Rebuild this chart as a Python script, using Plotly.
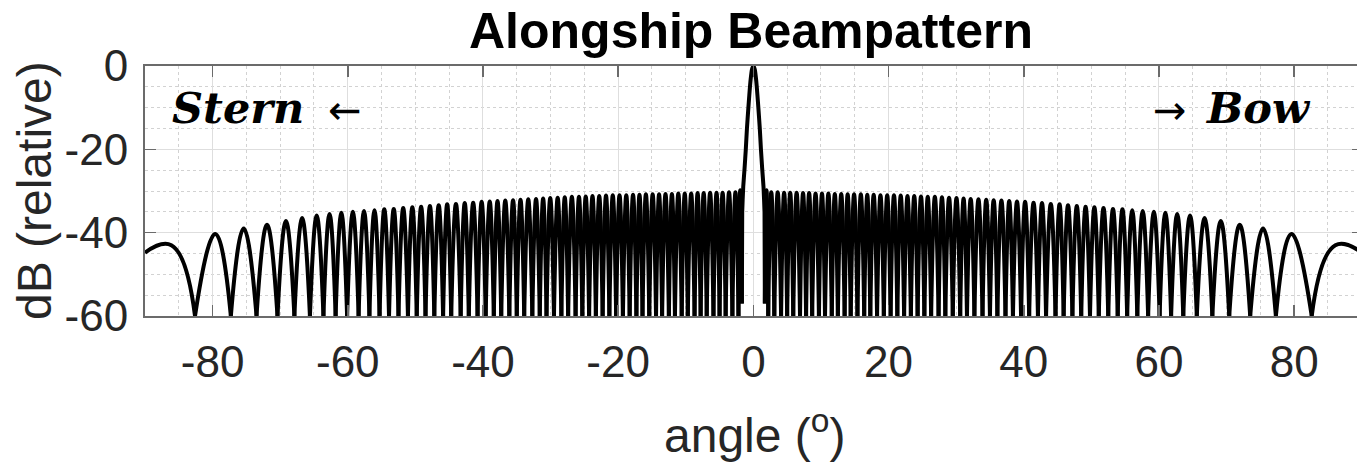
import plotly.graph_objects as go

# ---------------- data ----------------
# Side-lobe nulls (deg), lobe peak positions (deg) and peak levels (dB)
null_deg_left = [-82.6, -77.3, -73.5, -70.4, -67.9, -65.6, -63.6, -61.8, -60.1, -58.4,
                 -56.8, -55.3, -53.9, -52.5, -51.1, -49.8, -48.5, -47.2, -45.9, -44.7,
                 -43.3, -42.1, -40.8, -39.6, -38.4, -37.3, -36.1, -35.0, -33.9, -32.7,
                 -31.6, -30.6, -29.5, -28.4, -27.4, -26.3, -25.3, -24.3, -23.3, -22.3,
                 -21.3, -20.3, -19.3, -18.3, -17.3, -16.4, -15.4, -14.4, -13.5, -12.5,
                 -11.6, -10.6, -9.7, -8.7, -7.8, -6.9, -5.9, -5.0, -4.1, -3.1, -2.2]
peak_deg_left = [-79.6, -75.4, -71.95, -69.15, -66.75, -64.6, -62.7, -60.95, -59.25, -57.6,
                 -56.05, -54.6, -53.2, -51.8, -50.45, -49.15, -47.85, -46.55, -45.3, -44.0,
                 -42.7, -41.45, -40.2, -39.0, -37.85, -36.7, -35.55, -34.45, -33.3, -32.15,
                 -31.1, -30.05, -28.95, -27.9, -26.85, -25.8, -24.8, -23.8, -22.8, -21.8,
                 -20.8, -19.8, -18.8, -17.8, -16.85, -15.9, -14.9, -13.95, -13.0, -12.05,
                 -11.1, -10.15, -9.2, -8.25, -7.35, -6.4, -5.45, -4.55, -3.6, -2.65]
peak_db_left = [-40.3, -39.0, -38.1, -37.2, -36.5, -35.9, -35.5, -35.2, -35.0, -34.8,
                -34.6, -34.4, -34.3, -34.1, -33.9, -33.8, -33.6, -33.4, -33.2, -33.1,
                -32.9, -32.8, -32.6, -32.5, -32.4, -32.3, -32.2, -32.1, -32.0, -31.9,
                -31.8, -31.7, -31.6, -31.5, -31.4, -31.4, -31.3, -31.2, -31.2, -31.1,
                -31.0, -31.0, -31.0, -30.9, -30.9, -30.8, -30.8, -30.8, -30.7, -30.7,
                -30.6, -30.6, -30.6, -30.5, -30.5, -30.4, -30.4, -30.4, -30.3, -30.3]

null_deg_right = [2.2, 3.1, 4.1, 5.0, 5.9, 6.9, 7.8, 8.7, 9.7, 10.6,
                  11.6, 12.5, 13.5, 14.4, 15.4, 16.4, 17.3, 18.3, 19.3, 20.3,
                  21.3, 22.3, 23.3, 24.3, 25.3, 26.3, 27.4, 28.4, 29.5, 30.6,
                  31.6, 32.7, 33.9, 35.0, 36.1, 37.3, 38.4, 39.6, 40.8, 42.1,
                  43.3, 44.7, 45.9, 47.2, 48.5, 49.8, 51.1, 52.5, 53.9, 55.3,
                  56.8, 58.4, 60.1, 61.8, 63.6, 65.6, 67.9, 70.4, 73.5, 77.3, 82.6]
peak_deg_right = [2.65, 3.6, 4.55, 5.45, 6.4, 7.35, 8.25, 9.2, 10.15, 11.1,
                  12.05, 13.0, 13.95, 14.9, 15.9, 16.85, 17.8, 18.8, 19.8, 20.8,
                  21.8, 22.8, 23.8, 24.8, 25.8, 26.85, 27.9, 28.95, 30.05, 31.1,
                  32.15, 33.3, 34.45, 35.55, 36.7, 37.85, 39.0, 40.2, 41.45, 42.7,
                  44.0, 45.3, 46.55, 47.85, 49.15, 50.45, 51.8, 53.2, 54.6, 56.05,
                  57.6, 59.25, 60.95, 62.7, 64.6, 66.75, 69.15, 71.95, 75.4, 79.6]
peak_db_right = [-30.3, -30.3, -30.4, -30.4, -30.4, -30.5, -30.5, -30.6, -30.6, -30.6,
                 -30.7, -30.7, -30.8, -30.8, -30.8, -30.9, -30.9, -31.0, -31.0, -31.0,
                 -31.1, -31.2, -31.2, -31.3, -31.4, -31.4, -31.5, -31.6, -31.7, -31.8,
                 -31.9, -32.0, -32.1, -32.2, -32.3, -32.4, -32.5, -32.6, -32.8, -32.9,
                 -33.1, -33.2, -33.4, -33.6, -33.8, -33.9, -34.1, -34.3, -34.4, -34.6,
                 -34.8, -35.0, -35.2, -35.5, -35.9, -36.5, -37.2, -38.1, -39.0, -40.3]

null_floor_db = -60.0

# main lobe
main_deg = [-1.7, -1.65, -1.5, -1.3, -1.12, -0.95, -0.76, -0.6, -0.4, -0.2, 0.0,
            0.2, 0.4, 0.6, 0.76, 0.95, 1.12, 1.3, 1.5, 1.65, 1.7]
main_db = [-57.0, -35.0, -29.0, -24.5, -20.0, -15.0, -10.5, -7.0, -3.2, -0.8, 0.0,
           -0.8, -3.2, -7.0, -10.5, -15.0, -20.0, -24.5, -29.0, -35.0, -57.0]

# first side lobes next to the main lobe
first_sl_deg_left = [-2.2, -1.95, -1.7]
first_sl_db_left = [-60.0, -29.8, -57.0]
first_sl_deg_right = [1.7, 1.95, 2.2]
first_sl_db_right = [-57.0, -29.8, -60.0]

# partial lobes at the end-fire edges
edge_deg_left = [-90.0, -86.1, -82.6]
edge_db_left = [-44.8, -43.0, -60.0]
edge_deg_right = [82.6, 86.1, 90.0]
edge_db_right = [-60.0, -43.0, -44.8]

x_tick_vals = [-80, -60, -40, -20, 0, 20, 40, 60, 80]
x_tick_text = ["-80", "-60", "-40", "-20", "0", "20", "40", "60", "80"]
y_tick_vals = [-60, -40, -20, 0]
y_tick_text = ["-60", "-40", "-20", "0"]

# ---------------- build figure ----------------
def lobe_path(nulls, px, py, floor):
    xs, ys = [], []
    for i in range(len(px)):
        xs += [nulls[i], px[i], nulls[i + 1], None]
        ys += [floor, py[i], floor, None]
    return xs, ys

xl, yl = lobe_path(null_deg_left, peak_deg_left, peak_db_left, null_floor_db)
xr, yr = lobe_path(null_deg_right, peak_deg_right, peak_db_right, null_floor_db)

seg_x = (xl + xr + edge_deg_left + [None] + edge_deg_right + [None]
         + first_sl_deg_left + [None] + first_sl_deg_right)
seg_y = (yl + yr + edge_db_left + [None] + edge_db_right + [None]
         + first_sl_db_left + [None] + first_sl_db_right)

fig = go.Figure()
fig.add_trace(go.Scatter(x=seg_x, y=seg_y, mode="lines", connectgaps=False,
                         line=dict(color="black", width=4, shape="spline", smoothing=1.3),
                         hoverinfo="skip", showlegend=False))
fig.add_trace(go.Scatter(x=main_deg, y=main_db, mode="lines",
                         line=dict(color="black", width=4, shape="spline", smoothing=0.4),
                         hoverinfo="skip", showlegend=False))
# empty trace so the right-hand tick axis is drawn
fig.add_trace(go.Scatter(x=[], y=[], yaxis="y2", mode="lines",
                         hoverinfo="skip", showlegend=False))

W, H = 1357, 468
L, T, B, R = 145, 66, 468 - 316, 0
plot_w = W - L - R
plot_h = H - T - B

def px_x(px):  # page pixel -> paper x
    return (px - L) / plot_w

def px_y(py):  # page pixel -> paper y
    return (H - B - py) / plot_h

tick_font = dict(family="Liberation Sans, Arial, sans-serif", size=44, color="#262626")
axis_color = "#6b6b6b"
grid_major = "#dedede"
grid_minor = "#d2d2d2"

fig.update_layout(
    width=W, height=H,
    margin=dict(l=L, r=R, t=T, b=B, pad=0),
    paper_bgcolor="white", plot_bgcolor="white",
    showlegend=False,
    xaxis=dict(range=[-90, 89.3], tickmode="array", tickvals=x_tick_vals, ticktext=x_tick_text,
               showgrid=True, gridcolor=grid_major, gridwidth=1, zeroline=False,
               ticks="inside", ticklen=11, tickwidth=1.5, tickcolor=axis_color,
               showline=True, linecolor=axis_color, linewidth=2, mirror="ticks",
               tickfont=tick_font, ticklabelstandoff=6,
               minor=dict(dtick=5, tick0=0, showgrid=True, gridcolor=grid_minor,
                          griddash="dot", gridwidth=1, ticks="")),
    yaxis=dict(range=[-60, 0], tickmode="array", tickvals=y_tick_vals, ticktext=y_tick_text,
               showgrid=True, gridcolor=grid_major, gridwidth=1, zeroline=False,
               ticks="inside", ticklen=11, tickwidth=1.5, tickcolor=axis_color,
               showline=True, linecolor=axis_color, linewidth=2, mirror=False,
               tickfont=tick_font, ticklabelstandoff=6,
               minor=dict(dtick=5, tick0=0, showgrid=True, gridcolor=grid_minor,
                          griddash="dot", gridwidth=1, ticks="")),
    yaxis2=dict(range=[-60, 0], overlaying="y", side="right", anchor="x",
                tickmode="array", tickvals=y_tick_vals, showticklabels=False,
                ticks="inside", ticklen=5, tickwidth=1.5, tickcolor=axis_color,
                showgrid=False, zeroline=False, showline=False),
)

annotations = [
    dict(text="<b>Alongship Beampattern</b>", x=px_x(751), y=px_y(31), xref="paper", yref="paper",
         xanchor="center", yanchor="middle", showarrow=False,
         font=dict(family="Liberation Sans, Arial, sans-serif", size=50, color="black")),
    dict(text="angle (<sup>o</sup>)", x=px_x(754), y=px_y(432), xref="paper", yref="paper",
         xanchor="center", yanchor="middle", showarrow=False,
         font=dict(family="Liberation Sans, Arial, sans-serif", size=48, color="#262626")),
    dict(text="dB (relative)", x=px_x(34), y=px_y(191), xref="paper", yref="paper",
         xanchor="center", yanchor="middle", textangle=-90, showarrow=False,
         font=dict(family="Liberation Sans, Arial, sans-serif", size=48, color="#262626")),
    dict(text="<b><i>Stern</i></b>", x=px_x(170), y=px_y(108), xref="paper", yref="paper",
         xanchor="left", yanchor="middle", showarrow=False,
         font=dict(family="DejaVu Serif, serif", size=43, color="black")),
    dict(text="\u2190", x=px_x(345), y=px_y(110), xref="paper", yref="paper",
         xanchor="center", yanchor="middle", showarrow=False,
         font=dict(family="DejaVu Sans, sans-serif", size=40, color="black")),
    dict(text="\u2192", x=px_x(1170), y=px_y(110), xref="paper", yref="paper",
         xanchor="center", yanchor="middle", showarrow=False,
         font=dict(family="DejaVu Sans, sans-serif", size=40, color="black")),
    dict(text="<b><i>Bow</i></b>", x=px_x(1203), y=px_y(108), xref="paper", yref="paper",
         xanchor="left", yanchor="middle", showarrow=False,
         font=dict(family="DejaVu Serif, serif", size=43, color="black")),
]
fig.update_layout(annotations=annotations)

# remove the page's default body margin so the figure sits at the window origin
fig.write_html("out.html",
               config={"displayModeBar": False, "staticPlot": True},
               post_script="document.body.style.margin='0';document.body.style.overflow='hidden';")
